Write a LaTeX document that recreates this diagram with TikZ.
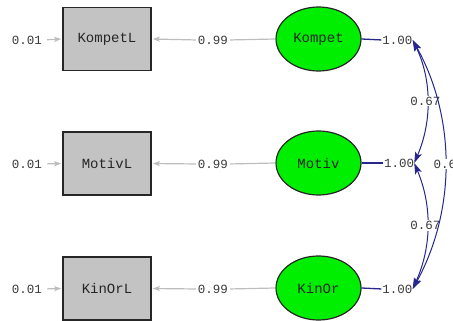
\documentclass[tikz,border=0pt]{standalone}
\usepackage{fontspec}
\setmonofont{Liberation Mono}
\usetikzlibrary{arrows.meta,shapes.geometric}
\definecolor{boxgray}{HTML}{C3C3C3}
\definecolor{latgreen}{HTML}{00EE00}
\definecolor{pathgray}{HTML}{BDBDBD}
\definecolor{corrblue}{HTML}{26268F}
\definecolor{numtext}{HTML}{3A3A3A}
\tikzset{
  obsbox/.style={draw=black!85, line width=1.5pt, fill=boxgray, minimum width=88pt, minimum height=63pt, inner sep=0pt,
    font=\ttfamily\fontsize{14}{16}\selectfont, text=black!85},
  latent/.style={ellipse, draw=black!85, line width=1.2pt, fill=latgreen, minimum width=85pt, minimum height=64pt, inner sep=0pt,
    font=\ttfamily\fontsize{14}{16}\selectfont, text=black!85},
  num/.style={inner sep=0pt, font=\ttfamily\fontsize{12.5}{14}\selectfont, text=numtext},
  corrlab/.style={num, fill=white, inner sep=1pt},
  grayarrow/.style={draw=pathgray, line width=1.2pt, -{Stealth[length=7pt,width=5pt,inset=1.5pt,fill=pathgray]}},
  grayline/.style={draw=pathgray, line width=1.2pt},
  blueline/.style={draw=corrblue, line width=1.3pt},
  corr/.style={draw=corrblue, line width=1pt,
    {Stealth[length=11pt,width=7pt,inset=2.5pt]}-{Stealth[length=11pt,width=7pt,inset=2.5pt]}},
}
\begin{document}
\begin{tikzpicture}[x=1pt, y=-1pt]
  \useasboundingbox (0,0) rectangle (453,321);
  \clip (0,0) rectangle (453,321);

  % observed indicators
  \node[obsbox] (oK) at (107,39)  {KompetL};
  \node[obsbox] (oM) at (107,163.5) {MotivL};
  \node[obsbox] (oI) at (107,288.5) {KinOrL};

  % latent variables
  \node[latent] (lK) at (318.5,39)  {Kompet};
  \node[latent] (lM) at (318.5,163) {Motiv};
  \node[latent] (lI) at (318.5,288) {KinOr};

  % error variances
  \node[num] (eK) at (27,40)  {0.01};
  \node[num] (eM) at (27,164) {0.01};
  \node[num] (eI) at (27,289) {0.01};

  % loadings
  \node[num] (fK) at (213,40)  {0.99};
  \node[num] (fM) at (213,164) {0.99};
  \node[num] (fI) at (213,289) {0.99};

  % latent variances
  \node[num] (vK) at (397.5,40)  {1.00};
  \node[num] (vM) at (399,163) {1.00};
  \node[num] (vI) at (397.5,289) {1.00};

  \foreach \e/\o/\f/\l/\v in {eK/oK/fK/lK/vK, eM/oM/fM/lM/vM, eI/oI/fI/lI/vI}{
    \draw[grayarrow, shorten <=5pt, shorten >=1pt] (\e.east) -- (\o.west);
    \draw[grayarrow, shorten <=2pt, shorten >=1pt] (\f.west) -- (\o.east);
    \draw[grayline, shorten >=2pt] (\l.west) -- (\f.east);
    \draw[blueline, shorten >=1pt] (\l.east) -- (\v.west);
  }

  % correlations between latent variables
  \draw[corr] (vK.east) .. controls (432,80) and (432,122) .. (vM.east)
    node[corrlab, pos=0.5, xshift=-2pt] {0.67};
  \draw[corr] (vM.east) .. controls (432,205) and (432,246) .. (vI.east)
    node[corrlab, pos=0.5, xshift=-2pt] {0.67};
  \draw[corr] (vK.east) .. controls (456,118) and (456,210) .. (vI.east)
    node[corrlab, pos=0.5, anchor=west, xshift=-13pt] {0.67};
\end{tikzpicture}
\end{document}
